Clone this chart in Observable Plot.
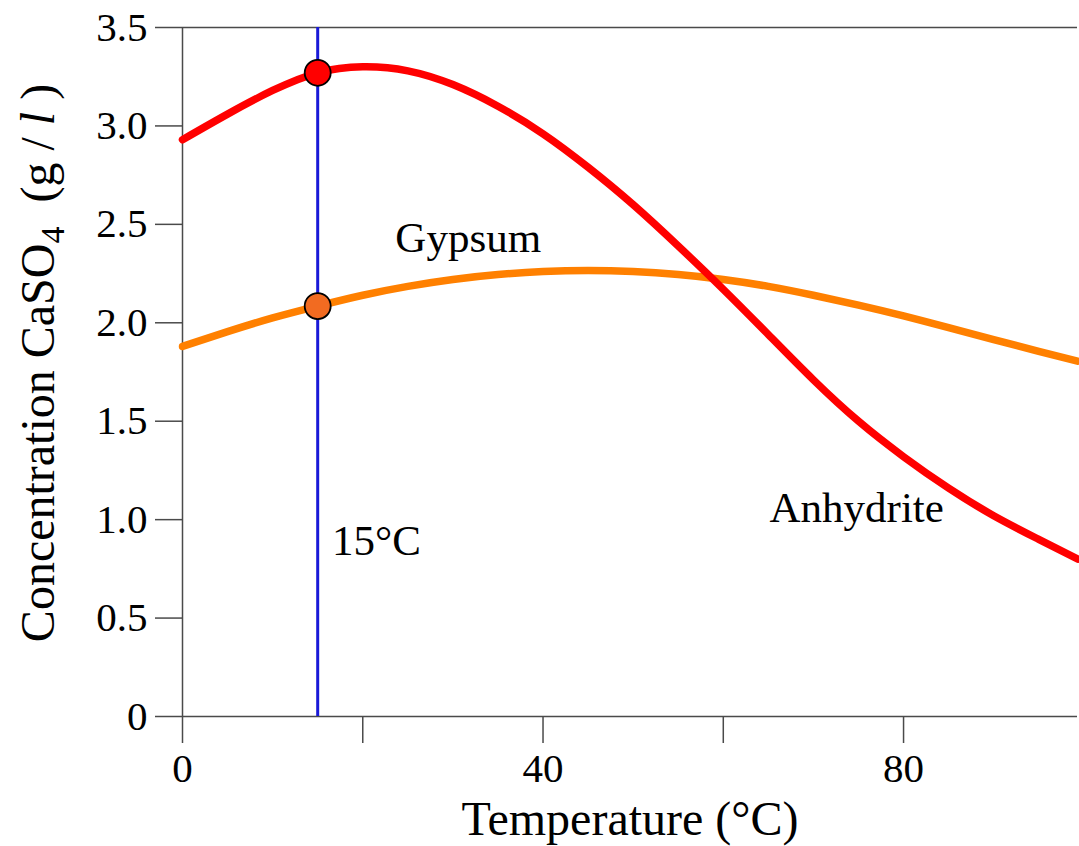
<!DOCTYPE html>
<html><head><meta charset="utf-8">
<script src="https://cdn.jsdelivr.net/npm/d3@7"></script>
<script src="https://cdn.jsdelivr.net/npm/@observablehq/plot@0.6"></script>
<style>
body{margin:0;background:#fff;}
#chart svg{font-family:"Liberation Serif","Times New Roman",serif;}
</style>
</head><body><div id="chart"></div>
<script>
// Temperature (°C)
const temperature = [0,5,10,15,20,25,30,35,40,45,50,55,60,65,70,75,80,85,90,95,99.3];
// CaSO4 concentration (g/l), red curve
const anhydrite = [2.93,3.06,3.18,3.27,3.30,3.28,3.21,3.10,2.96,2.79,2.60,2.39,2.17,1.94,1.71,1.50,1.32,1.16,1.02,0.90,0.80];
// CaSO4 concentration (g/l), orange curve
const gypsum = [1.88,1.955,2.025,2.085,2.14,2.185,2.22,2.245,2.26,2.265,2.26,2.245,2.22,2.185,2.14,2.09,2.035,1.975,1.915,1.855,1.805];
// reference temperature and marked points
const refTemp = [15];
const markerT = [15, 15];
const markerC = [3.27, 2.085];
const markerFill = ["#ff0000", "#f26b21"];
// annotations
const annText = ["Gypsum", "Anhydrite", "15°C"];
const annT = [31.7, 74.8, 16.6];
const annC = [2.43, 1.06, 0.89];
const annAnchor = ["middle", "middle", "start"];
// ticks
const xTicks = [0,20,40,60,80];
const xLabeled = [0,40,80];
const yTicks = [0,0.5,1,1.5,2,2.5,3,3.5];

const redData = temperature.map((t,i)=>({T:t, C:anhydrite[i]}));
const orangeData = temperature.map((t,i)=>({T:t, C:gypsum[i]}));
const markers = markerT.map((t,i)=>({T:t, C:markerC[i], fill:markerFill[i]}));
const anns = annText.map((s,i)=>({T:annT[i], C:annC[i], text:s, anchor:annAnchor[i]}));

const axisColor = "#4a4a4a";
const plot = Plot.plot({
  width: 1079,
  height: 846,
  marginLeft: 182,
  marginRight: 2,
  marginTop: 27,
  marginBottom: 130,
  style: {fontFamily: '"Liberation Serif","Times New Roman",serif', background: "#fff", color: "#000"},
  x: {domain: [0, 99.3]},
  y: {domain: [0, 3.5]},
  marks: [
    Plot.ruleY([3.5], {stroke: axisColor, strokeWidth: 1.5}),
    Plot.ruleX([0], {stroke: axisColor, strokeWidth: 1.5}),
    Plot.ruleY([0], {stroke: axisColor, strokeWidth: 1.5}),
    Plot.axisX({ticks: xTicks, tickSize: 27, tickPadding: 9, stroke: axisColor, strokeWidth: 1.5,
      tickFormat: d => xLabeled.includes(d) ? String(d) : "", fontSize: 41, label: null}),
    Plot.axisY({ticks: yTicks, tickSize: 27, tickPadding: 8, stroke: axisColor, strokeWidth: 1.5,
      tickFormat: d => d === 0 ? "0" : d.toFixed(1), fontSize: 41, label: null}),
    Plot.ruleX(refTemp, {stroke: "#1a1ad8", strokeWidth: 3}),
    Plot.line(orangeData, {x: "T", y: "C", stroke: "#ff8000", strokeWidth: 7.5, curve: "natural"}),
    Plot.line(redData, {x: "T", y: "C", stroke: "#ff0000", strokeWidth: 7.5, curve: "natural"}),
    Plot.dot(markers, {x: "T", y: "C", fill: d => d.fill, r: 13, stroke: "#000", strokeWidth: 1.8}),
    Plot.text(anns.filter(d=>d.anchor==="middle"), {x: "T", y: "C", text: "text", fontSize: 43, fill: "#000", textAnchor: "middle"}),
    Plot.text(anns.filter(d=>d.anchor==="start"), {x: "T", y: "C", text: "text", fontSize: 43, fill: "#000", textAnchor: "start"})
  ]
});
document.getElementById("chart").appendChild(plot);

const svg = d3.select(plot);
// x-axis title
svg.append("text")
  .attr("x", 630).attr("y", 835)
  .attr("text-anchor", "middle")
  .attr("font-size", 48)
  .attr("fill", "#000")
  .text("Temperature (°C)");
// y-axis title with subscript and italic l
const yt = svg.append("text")
  .attr("transform", "translate(54,363) rotate(-90)")
  .attr("text-anchor", "middle")
  .attr("font-size", 48)
  .attr("fill", "#000");
yt.append("tspan").text("Concentration CaSO");
yt.append("tspan").attr("font-size", 34).attr("dy", 10).text("4");
yt.append("tspan").attr("dy", -10).text("  (g /");
yt.append("tspan").attr("font-style", "italic").text(" l");
yt.append("tspan").text(" )");
yt.attr("xml:space", "preserve").style("white-space", "pre");
</script>
</body></html>
